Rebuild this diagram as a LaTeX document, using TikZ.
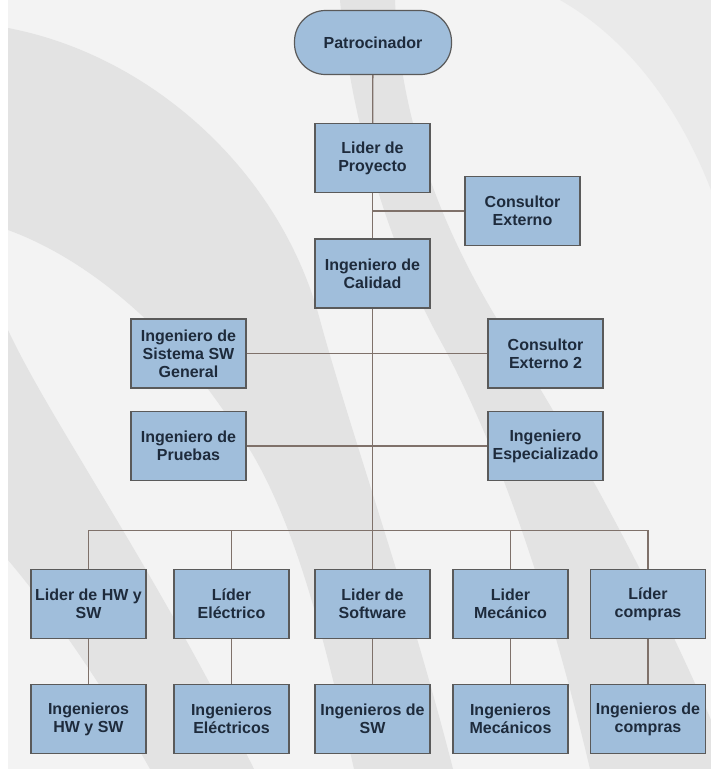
\documentclass[tikz,border=0pt]{standalone}
\usepackage{fontspec}
\setmainfont{Liberation Sans}
\definecolor{paper}{HTML}{F3F3F3}
\definecolor{swoosh}{HTML}{E3E3E3}
\definecolor{swooshlight}{HTML}{EAEAEA}
\definecolor{boxfill}{HTML}{A0BEDB}
\definecolor{boxline}{HTML}{5A5A5A}
\definecolor{wire}{HTML}{7F716A}
\definecolor{ink}{HTML}{1E2B3C}
\tikzset{
  unit/.style={draw=boxline, fill=boxfill, line width=1.2pt,
    minimum width=115pt, minimum height=69pt, inner sep=2pt,
    align=center, text=ink, font=\fontsize{16}{18}\selectfont\bfseries},
  sponsor/.style={unit, minimum width=157pt, minimum height=64pt, rounded corners=31pt},
  link/.style={draw=wire, line width=1.3pt}
}
\begin{document}
\begin{tikzpicture}[x=1pt,y=-1pt]
  \useasboundingbox (0,0) rectangle (711,769);
  % background sheet and its swooshes
  \fill[white] (0,0) rectangle (711,769);
  \fill[paper] (8,0) rectangle (711,769);
  \fill[swoosh] (8,28) .. controls (150,55) and (280,170) .. (320,320)
     .. controls (350,430) and (410,600) .. (453,769) -- (354,769)
     .. controls (320,620) and (290,500) .. (230,420)
     .. controls (170,330) and (90,260) .. (8,230) -- cycle;
  \fill[swoosh] (8,330) .. controls (50,420) and (150,560) .. (254,769)
     -- (150,769) .. controls (100,680) and (50,610) .. (8,560) -- cycle;
  \fill[swoosh] (340,0) -- (395,0) .. controls (400,120) and (440,230) .. (510,340)
     .. controls (580,450) and (660,600) .. (711,720) -- (711,769) -- (590,769)
     .. controls (550,600) and (500,450) .. (440,340)
     .. controls (390,250) and (350,120) .. (340,0) -- cycle;
  \fill[swooshlight] (560,0) .. controls (630,40) and (680,110) .. (711,190) -- (711,0) -- cycle;

  % upper chain
  \node[sponsor] (pat) at (373,42.5) {Patrocinador};
  \node[unit] (lp)  at (372.5,158.3) {Lider de\\Proyecto};
  \node[unit] (ce)  at (522.5,211) {Consultor\\Externo};
  \node[unit] (cal) at (372.5,273.5) {Ingeniero de\\Calidad};
  \node[unit] (sis) at (188.5,353.5) {Ingeniero de\\Sistema SW\\General};
  \node[unit] (ce2) at (545.5,353.5) {Consultor\\Externo 2};
  \node[unit] (pru) at (188.5,446) {Ingeniero de\\Pruebas};
  \node[unit] (esp) at (545.5,446) {Ingeniero\\Especializado};

  % leaders
  \node[unit] (lhw)  at (88.5,604)  {Lider de HW y\\SW};
  \node[unit] (lel)  at (231.5,604) {Líder\\Eléctrico};
  \node[unit] (lsw)  at (372.5,604) {Lider de\\Software};
  \node[unit] (lmec) at (510.5,604) {Lider\\Mecánico};
  \node[unit] (lcom) at (648,604)   {Líder\\compras};

  % engineering teams
  \node[unit] (ehw)  at (88.5,719)  {Ingenieros\\HW y SW};
  \node[unit] (eel)  at (231.5,719) {Ingenieros\\Eléctricos};
  \node[unit] (esw)  at (372.5,719) {Ingenieros de\\SW};
  \node[unit] (emec) at (510.5,719) {Ingenieros\\Mecánicos};
  \node[unit] (ecom) at (648,719)   {Ingenieros de\\compras};

  \coordinate (bus) at (372.5,530.5);

  % connectors
  \draw[link] (pat) -- (lp);
  \draw[link] (lp) -- (cal);
  \draw[link] (ce.west) -- (ce.west -| lp.south);
  \draw[link] (cal) -- (lsw);
  \draw[link] (sis) -- (ce2);
  \draw[link] (pru) -- (esp);
  \draw[link] (lhw.north) |- (bus) -| (lcom.north);
  \draw[link] (lel.north) -- (lel.north |- bus);
  \draw[link] (lmec.north) -- (lmec.north |- bus);
  \draw[link] (lhw) -- (ehw);
  \draw[link] (lel) -- (eel);
  \draw[link] (lsw) -- (esw);
  \draw[link] (lmec) -- (emec);
  \draw[link] (lcom) -- (ecom);
\end{tikzpicture}
\end{document}
